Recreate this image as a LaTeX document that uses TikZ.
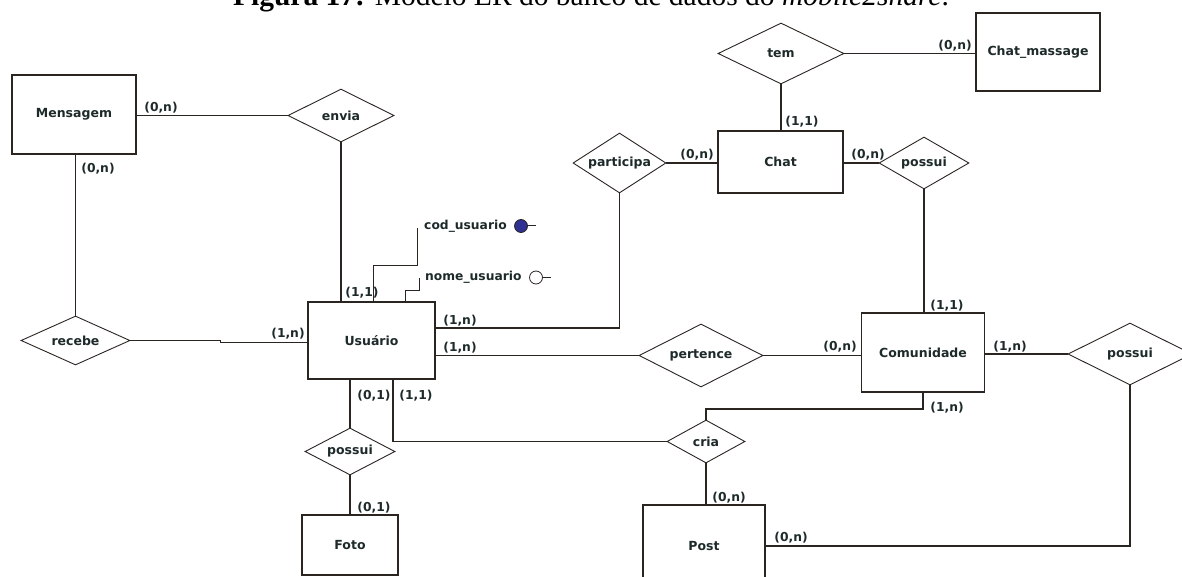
\documentclass[tikz,border=0pt]{standalone}
\usepackage{fontspec}
\setmainfont{Liberation Serif}
\newfontfamily\erfont{DejaVu Sans}
\usepackage{xcolor}
\definecolor{inkline}{HTML}{2B2522}
\definecolor{inktext}{HTML}{1E2A2A}
\definecolor{keyblue}{HTML}{2E3192}
\usepackage{tikz}
\usetikzlibrary{shapes.geometric, positioning}

\tikzset{
  entity/.style={draw=inkline, line width=1.8pt, fill=white, inner sep=0pt,
    font=\erfont\bfseries\fontsize{12.5}{14}\selectfont, text=inktext},
  relation/.style={diamond, aspect=1.6, draw=inkline, line width=0.9pt, fill=white, inner sep=0pt,
    font=\erfont\bfseries\fontsize{12.5}{14}\selectfont, text=inktext},
  card/.style={font=\erfont\bfseries\fontsize{12.3}{14}\selectfont, text=inktext, inner sep=0pt},
  link/.style={draw=inkline, line width=1.3pt},
  attrlink/.style={draw=inkline, line width=1pt}
}

\begin{document}
\begin{tikzpicture}[x=1pt, y=-1pt]
  % Page frame
  \useasboundingbox (0,0) rectangle (1182,577);
  \clip (0,0) rectangle (1182,577);

  % Caption (cut at the top)
  \node[anchor=base, inner sep=0pt, font=\fontsize{29.5}{32}\selectfont] (caption) at (591,6)
    {\textbf{Figura 17:} Modelo ER do banco de dados do \textit{mobile2share}.};

  % Entities
  \node[entity, minimum width=124pt, minimum height=79pt] (msg) at (74,114.5) {Mensagem};
  \node[entity, minimum width=127pt, minimum height=77pt] (usr) at (371.5,340.5) {Usuário};
  \node[entity, minimum width=125pt, minimum height=62pt] (chat) at (780.5,162) {Chat};
  \node[entity, minimum width=124pt, minimum height=78pt] (chatmsg) at (1038,52) {Chat\_massage};
  \node[entity, minimum width=123pt, minimum height=79pt] (com) at (923,352.5) {Comunidade};
  \node[entity, minimum width=96pt, minimum height=60pt] (foto) at (350,545) {Foto};
  \node[entity, minimum width=122pt, minimum height=82pt] (post) at (704,546) {Post};

  % Relationships
  \node[relation, minimum width=106pt, minimum height=53pt] (envia) at (341,115.5) {envia};
  \node[relation, minimum width=109pt, minimum height=49pt] (recebe) at (75.5,340.5) {recebe};
  \node[relation, minimum width=126pt, minimum height=61pt] (tem) at (781,53.5) {tem};
  \node[relation, minimum width=93pt, minimum height=60pt] (participa) at (619.5,163) {participa};
  \node[relation, minimum width=90pt, minimum height=52pt] (possuichat) at (924,163) {possui};
  \node[relation, minimum width=124pt, minimum height=63pt] (pertence) at (701,355.5) {pertence};
  \node[relation, minimum width=124pt, minimum height=62pt] (possuipost) at (1130,354) {possui};
  \node[relation, minimum width=90pt, minimum height=47pt] (possuifoto) at (350,451.5) {possui};
  \node[relation, minimum width=78pt, minimum height=43pt] (cria) at (706,441.5) {cria};

  % Connectors
  \draw[link] (envia.west -| msg.east) -- (envia.west);
  \draw[link] (envia.south) -- (envia.south |- usr.north);
  \draw[link] (recebe.north |- msg.south) -- (recebe.north);
  \draw[link] (recebe.east) -- ++(90,0) |- ([yshift=-2pt]usr.west);
  \draw[link] ([yshift=12.5pt]usr.east) -| (participa.south);
  \draw[link] (pertence.west -| usr.east) -- (pertence.west);
  \draw[link] (pertence.east) -- (pertence.east -| com.west);
  \draw[link] (participa.east) -- (participa.east -| chat.west);
  \draw[link] (tem.south) -- (tem.south |- chat.north);
  \draw[link] (tem.east) -- (tem.east -| chatmsg.west);
  \draw[link] (possuichat.west -| chat.east) -- (possuichat.west);
  \draw[link] (possuichat.south) -- (possuichat.south |- com.north);
  \draw[link] (possuipost.west -| com.east) -- (possuipost.west);
  \draw[link] (possuipost.south) |- (post.east);
  \draw[link] (com.south) -- ++(0,16) -| (cria.north);
  \draw[link] ([xshift=21.5pt]usr.south) |- (cria.west);
  \draw[link] (cria.south) -- (cria.south |- post.north);
  \draw[link] (possuifoto.north |- usr.south) -- (possuifoto.north);
  \draw[link] (possuifoto.south) -- (possuifoto.south |- foto.north);

  % Attributes of Usuario
  \node[card, anchor=west] (codtxt) at (424,226) {cod\_usuario};
  \node[circle, draw=inkline, fill=keyblue, line width=0.8pt, minimum size=13pt, inner sep=0pt] (codkey) at (521,226) {};
  \coordinate (codbend) at (417,265);
  \coordinate (codend) at (417,228);
  \draw[attrlink] ([xshift=1.5pt]usr.north) |- (codbend) -- (codend);
  \draw[attrlink] (codkey.east) -- ++(8,0);

  \node[card, anchor=west] (nometxt) at (425,277.5) {nome\_usuario};
  \node[circle, draw=inkline, fill=white, line width=0.8pt, minimum size=13pt, inner sep=0pt] (nomekey) at (536,277.5) {};
  \coordinate (nomebend) at (419,290);
  \coordinate (nomeend) at (419,278);
  \draw[attrlink] ([xshift=33.5pt]usr.north) |- (nomebend) -- (nomeend);
  \draw[attrlink] (nomekey.east) -- ++(8,0);

  % Cardinalities
  \node[card] (kmsgenvia) at (161,108) {(0,n)};
  \node[card] (kmsgrecebe) at (98,169) {(0,n)};
  \node[card] (kusrenvia) at (362,293) {(1,1)};
  \node[card] (kusrrecebe) at (288,334) {(1,n)};
  \node[card] (kusrpart) at (460,321) {(1,n)};
  \node[card] (kusrpert) at (460,348) {(1,n)};
  \node[card] (kusrfoto) at (374,396) {(0,1)};
  \node[card] (kusrcria) at (416,396) {(1,1)};
  \node[card] (kfoto) at (374,508) {(0,1)};
  \node[card] (kchatpart) at (697,155) {(0,n)};
  \node[card] (kchattem) at (802,122) {(1,1)};
  \node[card] (kchatmsg) at (955,46) {(0,n)};
  \node[card] (kchatcom) at (868,155) {(0,n)};
  \node[card] (kcomchat) at (947,306) {(1,1)};
  \node[card] (kcompert) at (840,347) {(0,n)};
  \node[card] (kcompost) at (1010,347) {(1,n)};
  \node[card] (kcomcria) at (947,408) {(1,n)};
  \node[card] (kpostcria) at (729,498) {(0,n)};
  \node[card] (kpostcom) at (791,538) {(0,n)};
\end{tikzpicture}
\end{document}
